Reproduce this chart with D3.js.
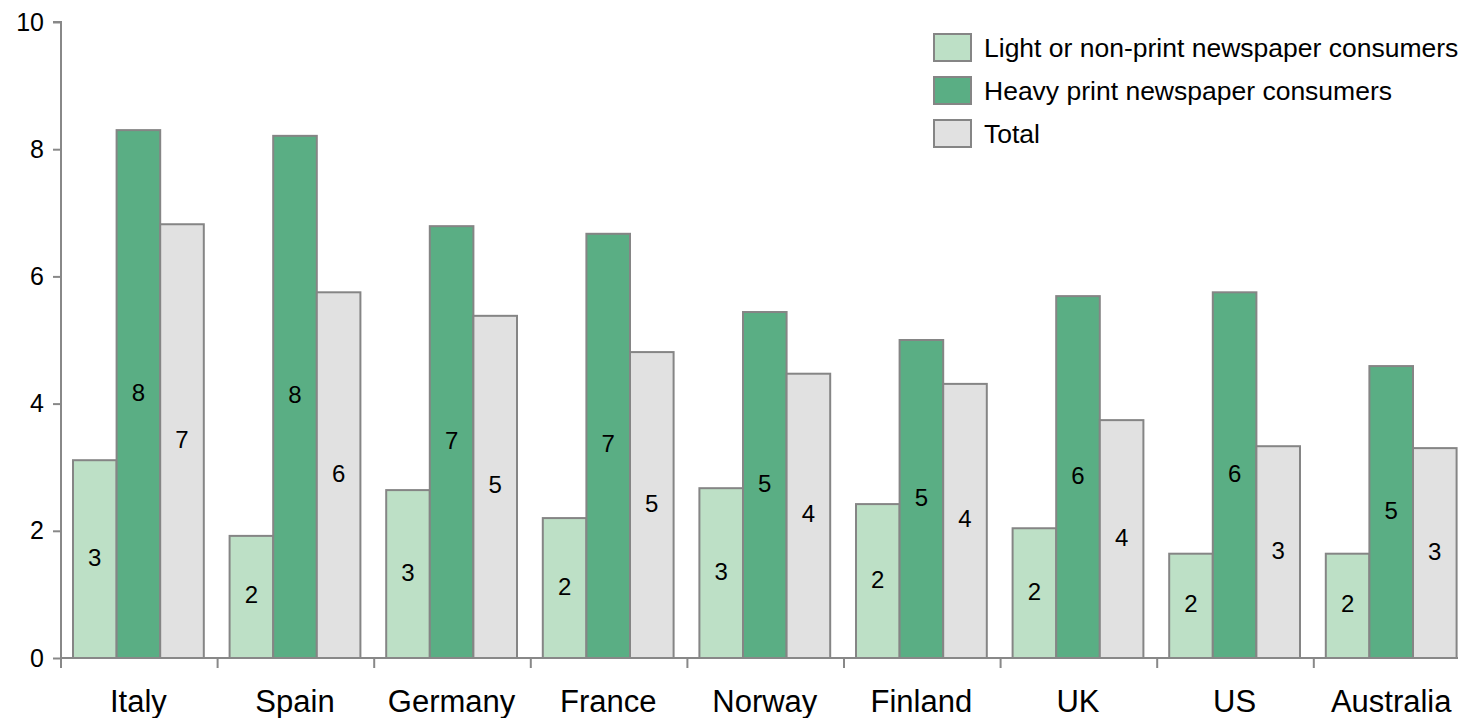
<!DOCTYPE html>
<html><head><meta charset="utf-8">
<script src="https://cdn.jsdelivr.net/npm/d3@7"></script>
<style>
html,body{margin:0;padding:0;background:#fff;}
text{font-family:"Liberation Sans",Arial,sans-serif;fill:#000;}
</style></head>
<body><svg id="chart" width="1458" height="718"></svg>
<script>
const categories = ["Italy","Spain","Germany","France","Norway","Finland","UK","US","Australia"];
const seriesNames = ["Light or non-print newspaper consumers","Heavy print newspaper consumers","Total"];
const lightValues = [3.11,1.92,2.64,2.20,2.67,2.42,2.04,1.64,1.64];
const heavyValues = [8.30,8.21,6.79,6.67,5.44,5.00,5.69,5.75,4.59];
const totalValues = [6.82,5.75,5.38,4.81,4.47,4.31,3.74,3.33,3.30];
const yTicks = [0,2,4,6,8,10];
const colors = ["#bde0c6","#5aae84","#e1e1e1"];

const series = [lightValues, heavyValues, totalValues];
const svg = d3.select("#chart");
const x0 = 61, yBottom = 658, yTop = 22;
const x = d3.scaleBand().domain(categories).range([x0, x0 + 9*156.6]).paddingInner(0).paddingOuter(0);
const xs = d3.scaleBand().domain(d3.range(3)).range([12, 12+130.8]).padding(0);
const y = d3.scaleLinear().domain([0,10]).range([yBottom, yTop]);
const axisColor = "#888";

// bars
categories.forEach((c, ci) => {
  series.forEach((vals, si) => {
    const v = vals[ci];
    const bx = x(c) + xs(si);
    svg.append("rect")
      .attr("x", bx).attr("y", y(v))
      .attr("width", xs.bandwidth()).attr("height", y(0) - y(v))
      .attr("fill", colors[si]).attr("stroke", "#858585").attr("stroke-width", 2);
    svg.append("text")
      .attr("x", bx + xs.bandwidth()/2).attr("y", (y(v) + y(0))/2 - 2)
      .attr("text-anchor", "middle").attr("dominant-baseline", "central")
      .attr("font-size", 24).text(d3.format(".0f")(v));
  });
});

// y axis
const yAxis = d3.axisLeft(y).tickValues(yTicks).tickSize(8).tickPadding(9).tickFormat(d3.format("d"));
const ga = svg.append("g").attr("transform", `translate(${x0},0)`).call(yAxis);
ga.select(".domain").attr("stroke", axisColor).attr("stroke-width", 2).attr("d", `M-8,${yTop}H0V${yBottom}`);
ga.selectAll(".tick line").attr("stroke", axisColor).attr("stroke-width", 2);
ga.selectAll(".tick text").attr("font-size", 25).attr("font-family", "Liberation Sans, Arial, sans-serif").attr("fill", "#000");

// x axis
const gx = svg.append("g").attr("transform", `translate(0,${yBottom})`);
gx.append("line").attr("x1", x0).attr("x2", 1458).attr("y1", 0).attr("y2", 0).attr("stroke", axisColor).attr("stroke-width", 2);
categories.forEach(c => {
  gx.append("line").attr("x1", x(c)).attr("x2", x(c)).attr("y1", 0).attr("y2", 10).attr("stroke", axisColor).attr("stroke-width", 2);
  gx.append("text").attr("x", x(c) + 12 + 130.8/2).attr("y", 54).attr("text-anchor", "middle")
    .attr("font-size", 31).text(c);
});

// legend
const lg = svg.append("g").attr("transform", "translate(934,34)");
seriesNames.forEach((n, i) => {
  const g = lg.append("g").attr("transform", `translate(0,${i*43})`);
  g.append("rect").attr("x", 0).attr("y", 0).attr("width", 37).attr("height", 27)
    .attr("fill", colors[i]).attr("stroke", "#858585").attr("stroke-width", 2);
  g.append("text").attr("x", 50).attr("y", 14).attr("dominant-baseline", "central")
    .attr("font-size", 26.5).text(n);
});
</script></body></html>
